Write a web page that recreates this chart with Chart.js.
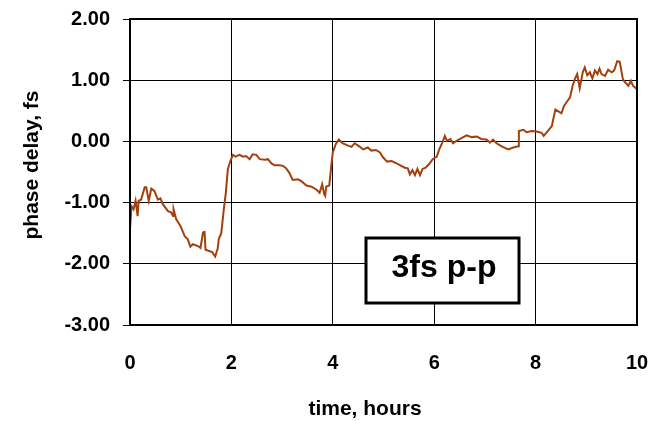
<!DOCTYPE html>
<html lang="en">
<head>
    <meta charset="UTF-8">
    <title>Phase delay vs time</title>
    <style>
        body, html {
            margin: 0;
            background: #fff;
        }
        .wrap {
            width: 666px;
            height: 421px;
        }
    </style>
</head>
<body>
    <div class="wrap"><canvas id="phaseChart"></canvas></div>
    <script src="https://cdn.jsdelivr.net/npm/chart.js"></script>
    <script>
        // hours
        const timeHours = [
            0.00, 0.03, 0.07, 0.11, 0.15, 0.17, 0.22, 0.29, 0.32, 0.37,
            0.42, 0.48, 0.55, 0.60, 0.65, 0.75, 0.81, 0.85, 0.86, 0.91,
            0.98, 1.01, 1.08, 1.14, 1.19, 1.24, 1.34, 1.39, 1.44, 1.47,
            1.49, 1.56, 1.62, 1.68, 1.73, 1.75, 1.80, 1.85, 1.89, 1.93,
            1.98, 2.03, 2.08, 2.16, 2.23, 2.29, 2.36, 2.42, 2.49, 2.56,
            2.66, 2.72, 2.79, 2.85, 2.95, 3.02, 3.08, 3.14, 3.21, 3.31,
            3.38, 3.48, 3.58, 3.68, 3.74, 3.79, 3.83, 3.85, 3.87, 3.93,
            3.97, 4.00, 4.06, 4.12, 4.19, 4.30, 4.37, 4.43, 4.50, 4.60,
            4.69, 4.76, 4.85, 4.93, 4.99, 5.07, 5.16, 5.26, 5.35, 5.42,
            5.48, 5.52, 5.57, 5.62, 5.67, 5.72, 5.77, 5.83, 5.90, 5.97,
            6.05, 6.10, 6.16, 6.21, 6.25, 6.32, 6.37, 6.44, 6.51, 6.64,
            6.74, 6.84, 6.93, 7.03, 7.10, 7.16, 7.23, 7.33, 7.46, 7.56,
            7.66, 7.67, 7.76, 7.82, 7.92, 8.02, 8.12, 8.16, 8.23, 8.32,
            8.35, 8.39, 8.45, 8.51, 8.56, 8.61, 8.68, 8.73, 8.78, 8.82,
            8.87, 8.93, 8.97, 9.02, 9.07, 9.12, 9.17, 9.22, 9.26, 9.30,
            9.37, 9.43, 9.50, 9.55, 9.61, 9.66, 9.72, 9.76, 9.83, 9.88,
            9.92, 10.00
        ];

        // fs
        const phaseDelay = [
            -1.44, -1.06, -1.11, -0.97, -1.22, -0.97, -0.95, -0.75, -0.75, -0.97,
            -0.77, -0.81, -0.95, -0.93, -1.03, -1.14, -1.16, -1.22, -1.11, -1.27,
            -1.36, -1.41, -1.55, -1.60, -1.72, -1.68, -1.71, -1.74, -1.49, -1.48,
            -1.77, -1.79, -1.81, -1.88, -1.75, -1.60, -1.50, -1.11, -0.84, -0.45,
            -0.32, -0.22, -0.25, -0.22, -0.25, -0.24, -0.29, -0.21, -0.22, -0.29,
            -0.30, -0.29, -0.36, -0.39, -0.39, -0.40, -0.44, -0.51, -0.63, -0.62,
            -0.65, -0.72, -0.74, -0.79, -0.84, -0.70, -0.86, -0.89, -0.74, -0.72,
            -0.40, -0.18, -0.04, 0.03, -0.03, -0.07, -0.09, -0.03, -0.07, -0.13,
            -0.10, -0.15, -0.14, -0.18, -0.26, -0.33, -0.32, -0.36, -0.40, -0.43,
            -0.44, -0.54, -0.47, -0.55, -0.45, -0.55, -0.45, -0.43, -0.37, -0.29,
            -0.25, -0.13, -0.02, 0.09, 0.01, 0.04, -0.03, 0.01, 0.04, 0.10,
            0.07, 0.08, 0.04, 0.03, -0.02, 0.03, -0.03, -0.08, -0.13, -0.10,
            -0.08, 0.17, 0.19, 0.15, 0.17, 0.16, 0.14, 0.09, 0.16, 0.25,
            0.37, 0.52, 0.49, 0.46, 0.58, 0.64, 0.72, 0.91, 1.03, 1.10,
            0.87, 1.13, 1.21, 1.08, 1.13, 1.03, 1.16, 1.10, 1.19, 1.10,
            1.07, 1.17, 1.13, 1.16, 1.31, 1.30, 1.02, 0.97, 0.91, 0.99,
            0.91, 0.85
        ];

        const xTitle = 'time, hours';
        const yTitle = 'phase delay, fs';
        const noteText = '3fs p-p';

        const fontFamily = '"Liberation Sans", Arial, sans-serif';

        // axis titles, outer frame and the "3fs p-p" box
        const extras = {
            id: 'extras',
            afterDraw(chart) {
                const ctx = chart.ctx;
                const a = chart.chartArea;
                ctx.save();

                ctx.strokeStyle = '#000';
                ctx.lineWidth = 2;
                ctx.strokeRect(a.left, a.top, a.right - a.left, a.bottom - a.top);

                ctx.fillStyle = '#000';
                ctx.font = 'bold 21px ' + fontFamily;
                ctx.textAlign = 'center';
                ctx.textBaseline = 'middle';
                ctx.fillText(xTitle, 365, 409);

                ctx.save();
                ctx.translate(32, 165);
                ctx.rotate(-Math.PI / 2);
                ctx.fillText(yTitle, 0, 0);
                ctx.restore();

                ctx.fillStyle = '#fff';
                ctx.fillRect(366, 238, 153, 65);
                ctx.lineWidth = 3;
                ctx.strokeRect(366, 238, 153, 65);
                ctx.fillStyle = '#000';
                ctx.font = 'bold 32px ' + fontFamily;
                ctx.textBaseline = 'alphabetic';
                ctx.fillText(noteText, 444, 277);

                ctx.restore();
            }
        };

        const points = timeHours.map((t, i) => ({ x: t, y: phaseDelay[i] }));

        new Chart(document.getElementById('phaseChart'), {
            type: 'line',
            data: {
                datasets: [{
                    data: points,
                    borderColor: '#A3410D',
                    borderWidth: 2,
                    pointRadius: 0,
                    tension: 0,
                    fill: false
                }]
            },
            options: {
                responsive: true,
                maintainAspectRatio: false,
                animation: false,
                layout: { padding: { top: 19, right: 29, left: 0, bottom: 0 } },
                plugins: {
                    legend: { display: false },
                    tooltip: { enabled: false }
                },
                scales: {
                    x: {
                        type: 'linear',
                        min: 0,
                        max: 10,
                        afterFit: s => {
                            s.height = 96;
                            s.paddingLeft = 0;
                            s.paddingRight = 0;
                        },
                        border: { color: '#000', width: 2 },
                        grid: { color: '#000', lineWidth: 1, drawTicks: false },
                        ticks: {
                            stepSize: 2,
                            padding: 26,
                            color: '#000',
                            font: { family: fontFamily, size: 20, weight: 'bold' }
                        }
                    },
                    y: {
                        min: -3,
                        max: 2,
                        afterFit: s => {
                            s.width = 130;
                            s.paddingTop = 0;
                            s.paddingBottom = 0;
                        },
                        border: { color: '#000', width: 2 },
                        grid: { color: '#000', lineWidth: 1, tickLength: 7 },
                        ticks: {
                            stepSize: 1,
                            padding: 13,
                            color: '#000',
                            font: { family: fontFamily, size: 20, weight: 'bold' },
                            callback: v => v.toFixed(2)
                        }
                    }
                }
            },
            plugins: [extras]
        });
    </script>
</body>
</html>
